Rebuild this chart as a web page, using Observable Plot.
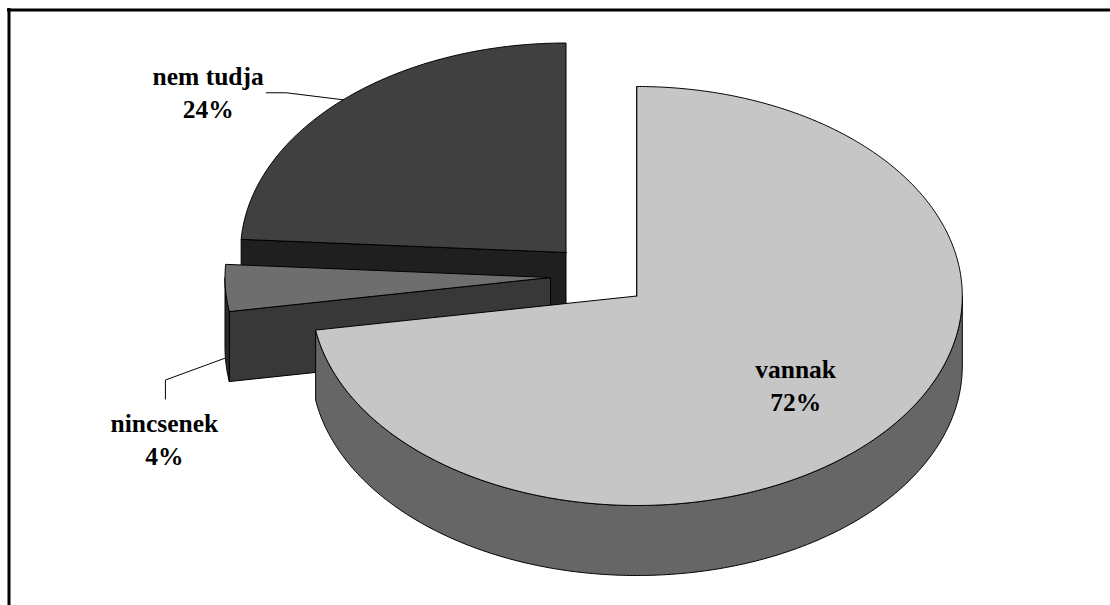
<!DOCTYPE html>
<html>
<head>
<meta charset="utf-8">
<style>html,body{margin:0;padding:0;background:#fff}svg{display:block}</style>
<script src="https://cdn.jsdelivr.net/npm/d3@7"></script>
<script src="https://cdn.jsdelivr.net/npm/@observablehq/plot@0.6"></script>
</head>
<body>
<div id="chart"></div>
<script>
// Data
const categories = ["vannak", "nincsenek", "nem tudja"];
const shares = [72.4, 3.6, 24];

// Layout of the exploded 3-D pie (pixel space of the chart)
const W = 1110, H = 605;
const rx = 325.5, ry = 209.5, depth = 70;
const apexX = [636.3, 550, 565.5];
const apexY = [295.5, 277, 252];
const topColor = ["#c6c6c6", "#6e6e6e", "#404040"];
const wallColor = ["#666666", "#2b2b2b", "#1f1f1f"];
const faceColor = ["#666666", "#383838", "#1f1f1f"];
const leaderOffsets = [null, [[0, 0], [-60, 22], [-60, 41]], [[0, 0], [-57, -7], [-77, -7]]];
const labelOffsets = [null, [-61, 80], [-135, -9]];

const total = d3.sum(shares);
const cum = d3.cumsum(shares);
const startA = shares.map((_, i) => (i ? cum[i - 1] : 0) / total * 360);
const endA = cum.map(c => c / total * 360);
const rad = Math.PI / 180;

const pt = (i, a, f = 1, dz = 0) => [
  apexX[i] + rx * f * Math.sin(a * rad),
  apexY[i] - ry * f * Math.cos(a * rad) + dz
];
const arc = (i, a0, a1, dz = 0) => {
  const n = Math.max(2, Math.ceil(Math.abs(a1 - a0) * 2));
  return d3.range(n + 1).map(k => pt(i, a0 + (a1 - a0) * k / n, 1, dz));
};
const close = p => [...p, p[0]];

const poly = (pts, fill) => Plot.line(close(pts), {
  x: d => d[0], y: d => d[1], fill, stroke: "#000", strokeWidth: 1, curve: "linear"
});

const marks = [];
// Paint from back to front: nem tudja, nincsenek, vannak
[2, 1, 0].forEach(i => {
  const a0 = startA[i], a1 = endA[i];
  const apex = [apexX[i], apexY[i]];
  const apexLow = [apexX[i], apexY[i] + depth];
  // cut face
  marks.push(poly([apex, pt(i, a0), pt(i, a0, 1, depth), apexLow], faceColor[i]));
  // outer wall (front-facing part only)
  const w0 = Math.max(a0, 90), w1 = Math.min(a1, 270);
  if (w1 > w0) marks.push(poly([...arc(i, w0, w1), ...arc(i, w1, w0, depth)], wallColor[i]));
  // top
  marks.push(poly([apex, ...arc(i, a0, a1)], topColor[i]));
});

// Labels and leaders
const labels = categories.map((c, i) => {
  const mid = (startA[i] + endA[i]) / 2;
  const text = `${c}\n${Math.round(shares[i])}%`;
  if (!leaderOffsets[i]) {
    const p = pt(i, mid, 0.64);
    return {x: p[0], y: p[1] + 1, text};
  }
  const anchor = pt(i, mid, 1, i === 1 ? 70 : 0);
  const off = labelOffsets[i];
  marks.push(Plot.line(leaderOffsets[i], {
    x: d => anchor[0] + d[0], y: d => anchor[1] + d[1],
    stroke: "#000", strokeWidth: 1, curve: "linear"
  }));
  return {x: anchor[0] + off[0], y: anchor[1] + off[1], text};
});

marks.push(Plot.text(labels, {
  x: "x", y: "y", text: "text",
  fontFamily: "Liberation Serif", fontSize: 25.5, fontWeight: "bold",
  fill: "#000", lineHeight: 1.3, textAnchor: "middle"
}));

// Chart-area frame: top and left edges only
marks.push(Plot.ruleY([9.5], {stroke: "#000", strokeWidth: 3, x1: 7, x2: W}));
marks.push(Plot.ruleX([8.5], {stroke: "#000", strokeWidth: 3, y1: 8, y2: H}));

const chart = Plot.plot({
  width: W, height: H,
  margin: 0,
  x: {domain: [0, W], range: [0, W], axis: null},
  y: {domain: [0, H], range: [0, H], axis: null},
  style: {background: "#fff"},
  marks
});
document.getElementById("chart").appendChild(chart);
</script>
</body>
</html>
